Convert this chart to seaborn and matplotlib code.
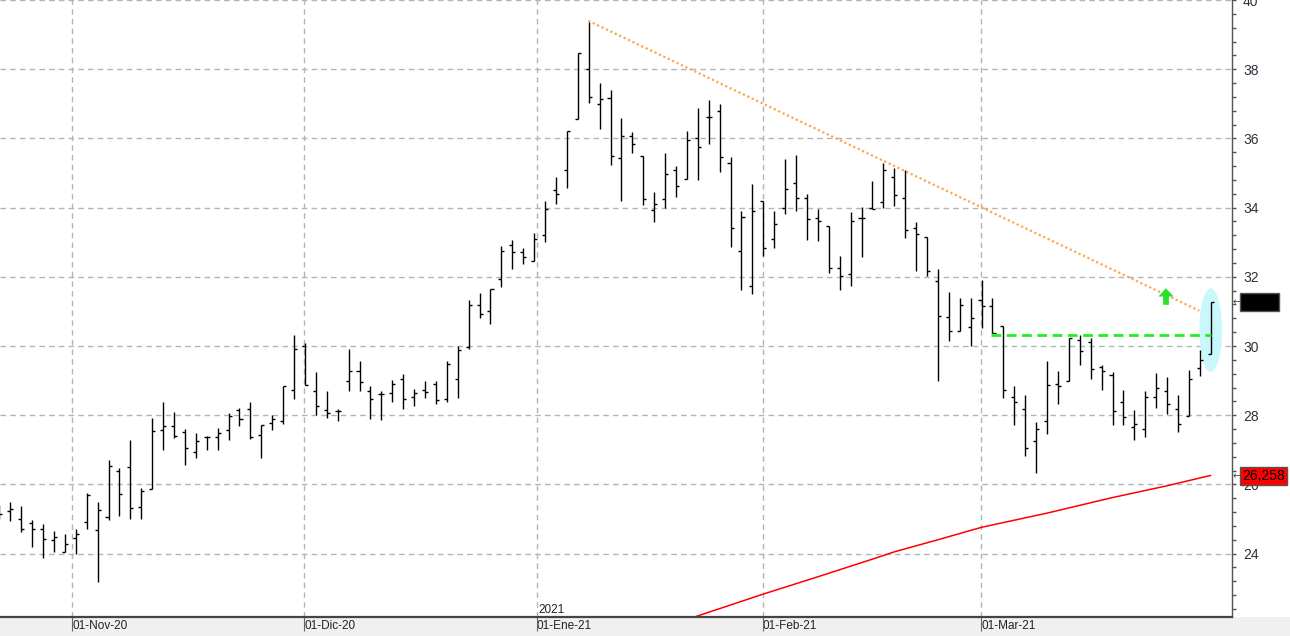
import numpy as np
import pandas as pd
import seaborn as sns
import matplotlib.pyplot as plt
from matplotlib.patches import Ellipse, Rectangle

# daily OHLC, one row per trading session (22-Oct-20 .. 30-Mar-21)
opens = [25.30, 25.23, 24.99, 24.87, 24.71, 24.38, 24.05, 24.46, 24.90, 24.68,
         25.07, 26.38, 26.49, 25.36, 25.86, 27.56, 27.69, 27.51, 26.93, 27.37,
         27.37, 27.57, 28.15, 28.17, 27.42, 27.77, 27.82, 28.73, 29.99, 28.70,
         28.16, 28.12, 28.98, 29.29, 28.71, 28.60, 28.63, 29.06, 28.54, 28.74,
         28.89, 28.48, 29.06, 29.96, 31.18, 31.00, 31.93, 32.91, 32.72, 32.45,
         33.21, 34.51, 35.08, 36.55, 38.00, 37.00, 37.18, 35.43, 36.06, 35.49,
         33.93, 34.25, 35.08, 34.82, 36.00, 36.63, 36.78, 35.29, 32.76, 31.72,
         34.19, 33.10, 33.99, 34.72, 34.29, 33.70, 33.48, 32.24, 32.07, 33.70,
         34.00, 34.15, 34.89, 34.29, 33.40, 33.16, 31.87, 30.83, 30.42, 30.54,
         31.33, 31.15, 30.57, 28.53, 28.19, 27.26, 27.82, 28.90, 28.99, 30.17,
         30.12, 29.39, 29.17, 28.39, 27.65, 27.59, 28.52, 28.71, 28.19, 27.99,
         29.37, 29.77]
highs = [25.40, 25.49, 25.37, 24.97, 24.85, 24.65, 24.56, 24.72, 25.74, 25.49,
         26.71, 26.46, 27.29, 25.91, 27.91, 28.38, 28.09, 27.59, 27.48, 27.40,
         27.62, 28.06, 28.20, 28.38, 27.71, 28.01, 28.84, 30.33, 30.09, 29.25,
         28.71, 28.18, 29.90, 29.56, 28.83, 28.71, 29.03, 29.19, 28.77, 29.00,
         29.00, 29.58, 30.00, 31.32, 31.53, 31.64, 32.89, 33.06, 32.83, 33.27,
         34.19, 34.89, 36.20, 38.47, 39.35, 37.59, 37.39, 36.58, 36.18, 35.49,
         34.45, 35.58, 35.21, 36.20, 36.87, 37.12, 37.00, 35.46, 33.91, 34.69,
         34.19, 33.91, 35.40, 35.51, 34.38, 33.95, 33.48, 32.60, 33.87, 34.01,
         34.78, 35.29, 35.15, 35.09, 33.57, 33.16, 32.23, 31.55, 31.38, 31.38,
         31.91, 31.38, 30.57, 28.83, 28.57, 27.80, 29.58, 29.29, 30.23, 30.32,
         30.23, 29.46, 29.26, 28.72, 28.14, 28.69, 29.23, 29.09, 28.59, 29.32,
         29.87, 31.26]
lows = [25.00, 24.95, 24.63, 24.19, 23.86, 24.05, 24.05, 23.98, 24.72, 23.18,
        24.97, 25.10, 24.99, 24.99, 25.86, 26.98, 27.33, 26.57, 26.75, 26.98,
        26.98, 27.29, 27.70, 27.32, 26.77, 27.56, 27.74, 28.46, 28.87, 28.01,
        27.93, 27.82, 28.69, 28.71, 27.90, 27.87, 28.37, 28.19, 28.28, 28.51,
        28.31, 28.37, 28.51, 29.91, 30.80, 30.65, 31.70, 32.22, 32.37, 32.45,
        33.00, 34.10, 34.58, 36.55, 37.02, 36.28, 35.22, 34.18, 35.59, 34.07,
        33.58, 33.98, 34.30, 34.82, 34.81, 35.85, 35.04, 32.86, 31.63, 31.51,
        32.60, 32.83, 33.81, 33.90, 33.07, 33.04, 32.10, 31.63, 31.74, 32.58,
        33.95, 33.99, 34.05, 33.11, 32.17, 32.03, 29.00, 30.15, 30.42, 30.01,
        30.52, 30.37, 28.50, 27.72, 26.83, 26.32, 27.47, 28.32, 28.99, 29.46,
        29.04, 28.73, 27.72, 27.72, 27.29, 27.38, 28.21, 28.04, 27.52, 27.99,
        29.13, 29.77]
closes = [25.14, 25.29, 24.70, 24.72, 24.42, 24.47, 24.29, 24.58, 25.68, 25.26,
          26.52, 25.71, 25.33, 25.80, 27.54, 27.69, 27.39, 27.04, 27.25, 27.37,
          27.48, 27.98, 27.88, 27.36, 27.71, 27.88, 28.84, 29.91, 28.87, 28.26,
          28.05, 28.12, 29.27, 28.95, 28.48, 28.60, 28.89, 28.48, 28.63, 28.66,
          28.43, 29.47, 29.87, 31.18, 30.92, 31.64, 32.74, 32.72, 32.57, 33.09,
          33.96, 34.39, 36.20, 38.47, 37.21, 37.15, 35.49, 36.06, 35.83, 34.25,
          34.11, 34.98, 34.62, 35.94, 35.75, 36.63, 35.46, 33.42, 33.73, 33.90,
          32.84, 33.53, 34.54, 34.29, 33.66, 33.60, 32.24, 32.02, 33.60, 33.70,
          33.95, 35.10, 34.35, 33.35, 33.25, 32.18, 30.86, 30.43, 31.18, 30.81,
          31.16, 30.37, 28.74, 28.39, 27.04, 27.59, 28.88, 28.85, 30.23, 29.86,
          29.34, 29.27, 28.13, 27.96, 27.76, 28.52, 28.80, 28.33, 27.76, 29.06,
          29.59, 31.26]

# long moving average (read at a few sessions)
ma_bar = [60, 64, 70, 75, 80, 82, 86, 90, 96, 102, 107, 111]
ma_val = [21.78, 22.20, 22.83, 23.33, 23.84, 24.05, 24.40, 24.76, 25.17, 25.62, 25.96, 26.26]

# resistance trendline (two touch points) and breakout level
trend_bar = [53.96, 109.95]
trend_val = [39.40, 31.02]
level_bar = [90.9, 111.0]
level_val = [30.33, 30.33]

month_labels = ["01-Nov-20", "01-Dic-20", "01-Ene-21", "01-Feb-21", "01-Mar-21"]
month_pos = [6.68, 27.94, 49.23, 69.95, 89.97]
ma_last = "26,258"
last_close = "31,26"

df = pd.DataFrame({"bar": np.arange(len(opens)), "open": opens, "high": highs,
                   "low": lows, "close": closes})

sns.set_style("white")
plt.rcParams["font.family"] = ["Liberation Sans", "DejaVu Sans"]

fig = plt.figure(figsize=(12.9, 6.36), dpi=100)
ax = fig.add_axes([0, 19 / 636, 1232 / 1290, 617 / 636])

# grey date strip under the chart (behind the axes so the labels stay on top)
fig.patches.append(Rectangle((0, 0), 1, 19 / 636, transform=fig.transFigure,
                             facecolor="#f0f0f0", edgecolor="none", zorder=-1))

# cyan highlight behind the last session
ax.add_patch(Ellipse((df["bar"].iloc[-1], 30.46), 2.08, 2.41,
                     facecolor="#c8f8fc", edgecolor="none", zorder=1))

# OHLC bars
tick = 0.28
ax.vlines(df["bar"], df["low"], df["high"], color="black", lw=1.0, zorder=3)
ax.hlines(df["open"], df["bar"] - tick, df["bar"], color="black", lw=1.0, zorder=3)
ax.hlines(df["close"], df["bar"], df["bar"] + tick, color="black", lw=1.0, zorder=3)

sns.lineplot(x=ma_bar, y=ma_val, color="#ff0000", lw=1.1, ax=ax, zorder=2)
sns.lineplot(x=trend_bar, y=trend_val, color="#ffa64d", lw=1.6, ls=(0, (1, 1.2)),
             ax=ax, zorder=2)
sns.lineplot(x=level_bar, y=level_val, color="#22ee22", lw=2.0, ls=(0, (3.5, 2)),
             ax=ax, zorder=4)

ax.annotate("", xy=(106.9, 31.67), xytext=(106.9, 31.19),
            arrowprops=dict(arrowstyle="simple,head_width=1.1,head_length=0.6,tail_width=0.42",
                            color="#2ee02e", lw=0, shrinkA=0, shrinkB=0), zorder=5)

ax.set_xlim(0.056, 112.95)
ax.set_ylim(40 - 617 / 34.6, 40.0)

# axes styling
for s in ["top", "left"]:
    ax.spines[s].set_visible(False)
ax.spines["right"].set_color("#555555")
ax.spines["right"].set_linewidth(1.0)
ax.spines["bottom"].set_color("#444444")
ax.spines["bottom"].set_linewidth(1.6)

ax.yaxis.tick_right()
ax.set_yticks(np.arange(24, 41, 2))
ax.set_yticklabels([str(v) for v in range(24, 41, 2)])
ax.set_yticks(np.arange(22.4, 40.0, 0.4), minor=True)
ax.tick_params(axis="y", which="both", direction="out", length=3, width=1,
               color="#555555", labelsize=10, labelcolor="#30303c", pad=5)

ax.set_xticks(month_pos)
ax.set_xticklabels(month_labels, ha="left", fontsize=8.5, color="#222222")
ax.tick_params(axis="x", length=0, pad=2)
ax.vlines(month_pos, 0, -0.022, transform=ax.get_xaxis_transform(),
          color="#666666", lw=0.8, clip_on=False)

ax.grid(True, color="#b4b4b4", lw=1.0, ls=(0, (4, 3)))
ax.set_axisbelow(True)
ax.set_xlabel("")
ax.set_ylabel("")

ax.annotate("2021", xy=(month_pos[2], 0), xycoords=("data", "axes fraction"),
            xytext=(1, 1), textcoords="offset points", fontsize=8.5,
            color="#222222", ha="left", va="bottom")

# right-margin price markers
ax.annotate(last_close, xy=(1, 31.27), xycoords=("axes fraction", "data"),
            xytext=(7.3, 0), textcoords="offset points", fontsize=10,
            color="black", ha="left", va="center", annotation_clip=False,
            bbox=dict(boxstyle="square,pad=0.12", facecolor="black", edgecolor="#555555", lw=1))
ax.annotate(ma_last, xy=(1, 26.24), xycoords=("axes fraction", "data"),
            xytext=(7.3, 0), textcoords="offset points", fontsize=10,
            color="black", ha="left", va="center", annotation_clip=False,
            bbox=dict(boxstyle="square,pad=0.12", facecolor="#ff0000", edgecolor="#555555", lw=1))
for yv in [31.27, 26.24]:
    ax.annotate("\u2190", xy=(1, yv), xycoords=("axes fraction", "data"),
                xytext=(0.5, 0), textcoords="offset points", fontsize=7,
                color="#444444", ha="left", va="center", annotation_clip=False,
                family="DejaVu Sans")

fig.savefig("out.png", dpi=100)
